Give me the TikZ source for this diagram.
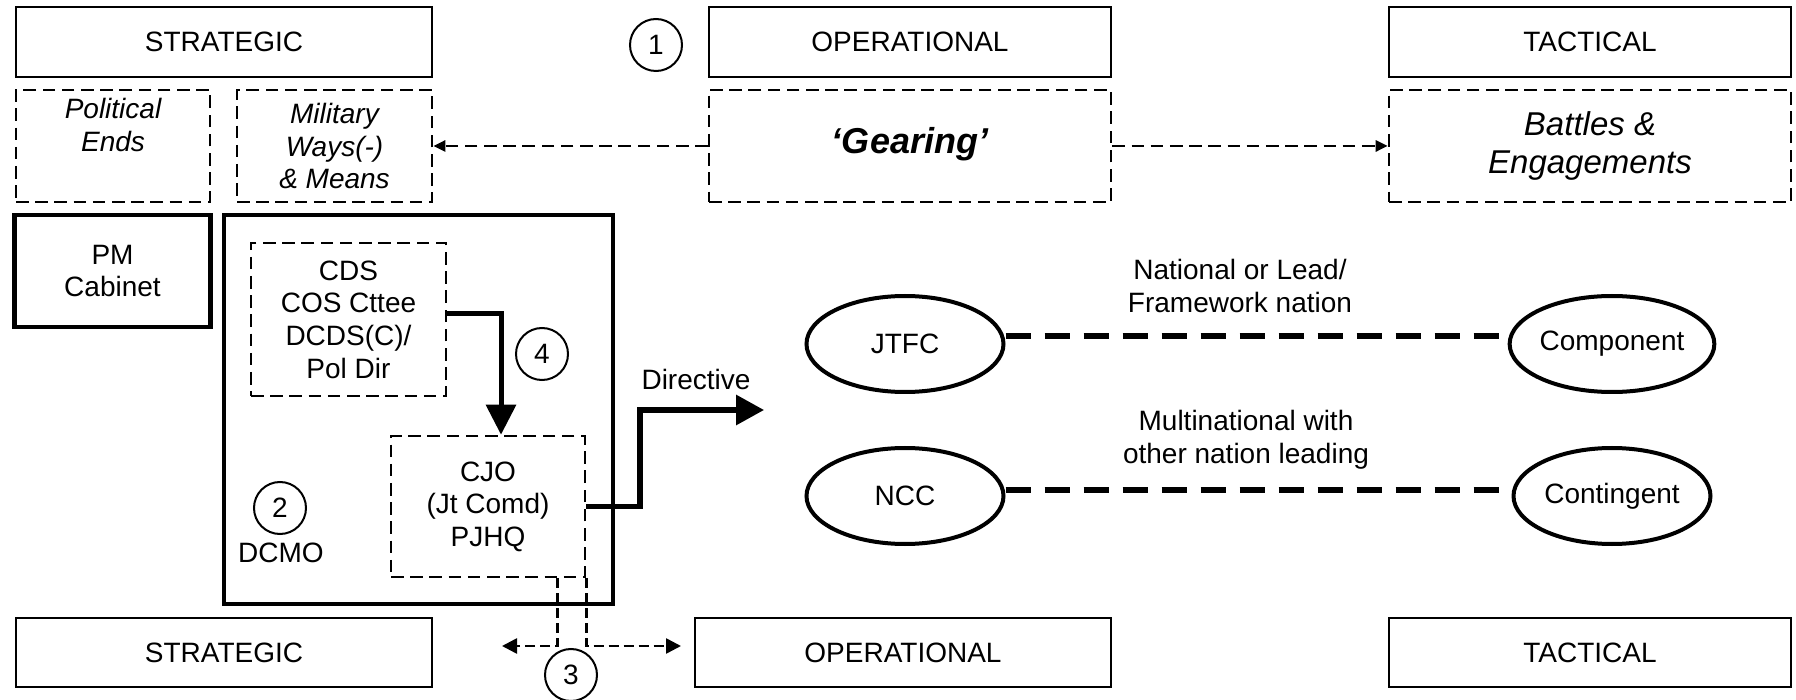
\documentclass[tikz,border=0pt]{standalone}
\usepackage{fontspec}
\setmainfont{Liberation Sans}
\usetikzlibrary{arrows.meta,shapes.geometric}

\begin{document}
\begin{tikzpicture}[x=0.5pt,y=-0.5pt,
  every node/.style={font=\fontsize{14}{16.3}\selectfont, align=center},
  itext/.style={font=\fontsize{14}{16.3}\selectfont\itshape},
  lvlbox/.style={draw, line width=1.2pt, minimum height=35pt, inner sep=0pt},
  dbox/.style={draw, line width=1.3pt, dash pattern=on 6.3pt off 3.3pt, inner sep=0pt},
  heavybox/.style={draw, line width=2.4pt, inner sep=0pt},
  numc/.style={draw, circle, line width=1pt, minimum size=26pt, inner sep=0pt},
  unit/.style={draw, ellipse, line width=2pt, minimum width=98.5pt, minimum height=48pt, inner sep=0pt},
  dasharr/.style={line width=1.3pt, dash pattern=on 6.3pt off 3.3pt, -{Triangle[length=6pt,width=5.5pt]}},
  smalldasharr/.style={line width=1.3pt, dash pattern=on 5pt off 2.5pt, -{Triangle[length=7.5pt,width=7.5pt]}},
  downarr/.style={line width=2.5pt, -{Triangle[length=15pt,width=14.7pt]}},
  dirarr/.style={line width=2.6pt, -{Triangle[length=14pt,width=14.7pt]}},
  link/.style={line width=3pt, dash pattern=on 12.5pt off 7pt},
]
\useasboundingbox (0,0) rectangle (1796,700);

% level headers (top)
\node[lvlbox, minimum width=208pt] (stratT) at (224,42) {STRATEGIC};
\node[lvlbox, minimum width=201pt] (opT) at (910,42) {OPERATIONAL};
\node[lvlbox, minimum width=201pt] (tacT) at (1590,42) {TACTICAL};
\node[numc] (n1) at (656,45) {1};

% ends, ways and means
\node[dbox, itext, minimum width=97pt, minimum height=56pt] (pol) at (113,146) {Political\\Ends\\\strut};
\node[dbox, itext, minimum width=97.5pt, minimum height=56pt] (mil) at (334.5,146) {Military\\Ways(-)\\\& Means};
\node[dbox, minimum width=201pt, minimum height=56pt, font=\fontsize{18}{21}\selectfont\bfseries\itshape] (gear) at (910,146) {\raisebox{6pt}{‘Gearing’}};
\node[dbox, minimum width=201pt, minimum height=56pt, font=\fontsize{16.5}{19}\selectfont\itshape] (bat) at (1590,146) {Battles \&\\Engagements};
\draw[dasharr] (gear.west) -- (mil.east);
\draw[dasharr] (gear.east) -- (bat.west);

% national strategic level
\node[heavybox, minimum width=98pt, minimum height=56pt] (pm) at (112.5,271) {PM\\Cabinet};
\node[heavybox, minimum width=194.5pt, minimum height=194.5pt] (mod) at (418.5,409.5) {};
\node[dbox, minimum width=97.5pt, minimum height=76.5pt] (cds) at (348.5,319.5) {CDS\\COS Cttee\\DCDS(C)/\\Pol Dir};
\node[dbox, minimum width=97pt, minimum height=70.5pt] (cjo) at (488,506.5) {CJO\\(Jt Comd)\\PJHQ};
\node[numc] (n4) at (542,354) {4};
\node[numc] (n2) at (280,508) {2};
\node (dcmo) at (281,553) {DCMO};
\draw[downarr] ([yshift=3pt]cds.east) -| ([xshift=6.5pt]cjo.north);

% directive to the joint force
\coordinate (dirBend) at (640,410);
\coordinate (dirEnd) at (764,410);
\draw[dirarr] (cjo.east) -- (cjo.east -| dirBend) |- (dirEnd);
\node (dirlbl) at (696,379) {Directive};

% commanders and components
\node[unit] (jtfc) at (905,344) {JTFC};
\node[unit] (comp) at (1612,344) {Component};
\node[unit] (ncc) at (905,496) {NCC};
\node[unit] (cont) at (1612,496) {Contingent};
\draw[link] ([yshift=4pt]jtfc.east) -- ([yshift=4pt]comp.west);
\draw[link] ([yshift=3pt]ncc.east) -- ([yshift=3pt]cont.west);
\node (lbl1) at (1240,286) {National or Lead/\\Framework nation};
\node (lbl2) at (1246,440) {Multinational with\\other nation leading};

% level headers (bottom)
\node[lvlbox, minimum width=208pt, minimum height=34.5pt] (stratB) at (224,652.5) {STRATEGIC};
\node[lvlbox, minimum width=208pt, minimum height=34.5pt] (opB) at (903,652.5) {OPERATIONAL};
\node[lvlbox, minimum width=201pt, minimum height=34.5pt] (tacB) at (1590,652.5) {TACTICAL};

% PJHQ reach across levels
\coordinate (end3l) at (502,646);
\coordinate (end3r) at (681,646);
\draw[smalldasharr] ([xshift=-14.5pt]cjo.south east) |- (end3l);
\draw[smalldasharr] (cjo.south east) |- (end3r);
\node[numc] (n3) at (571,675) {3};
\end{tikzpicture}
\end{document}
